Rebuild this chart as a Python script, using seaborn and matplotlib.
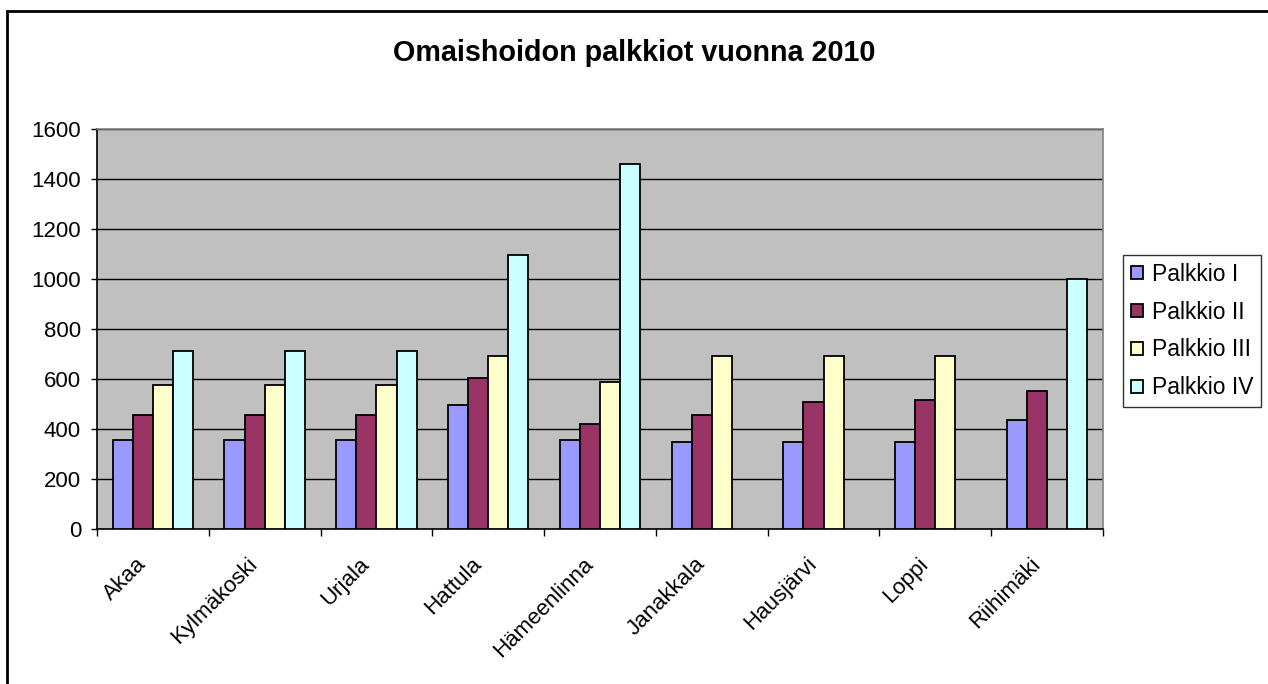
import numpy as np
import pandas as pd
import matplotlib
matplotlib.use("Agg")
import matplotlib.pyplot as plt
import seaborn as sns
from matplotlib.patches import Rectangle
from matplotlib.transforms import ScaledTranslation

# ===== DATA =====
kunnat = ["Akaa", "Kylmäkoski", "Urjala", "Hattula", "Hämeenlinna",
          "Janakkala", "Hausjärvi", "Loppi", "Riihimäki"]
palkkio_1 = [355, 355, 355, 495, 355, 348, 348, 348, 435]
palkkio_2 = [458, 458, 458, 604, 420, 458, 509, 517, 553]
palkkio_3 = [575, 575, 575, 691, 589, 691, 691, 691, np.nan]
palkkio_4 = [714, 714, 714, 1095, 1461, np.nan, np.nan, np.nan, 1000]
sarjat = ["Palkkio I", "Palkkio II", "Palkkio III", "Palkkio IV"]
varit = ["#9999FF", "#993366", "#FFFFCC", "#CCFFFF"]

df = pd.DataFrame({
    "Kunta": kunnat * 4,
    "Sarja": [s for s in sarjat for _ in kunnat],
    "Arvo": palkkio_1 + palkkio_2 + palkkio_3 + palkkio_4,
})

# ===== PLOT =====
sns.set_style("white", rc={"text.color": "black", "xtick.color": "black",
                           "ytick.color": "black", "axes.labelcolor": "black"})
plt.rcParams["font.family"] = ["Liberation Sans", "DejaVu Sans"]

fig = plt.figure(figsize=(12.68, 6.84), dpi=100)
ax = fig.add_axes([97 / 1268, 1 - 529 / 684, 1006 / 1268, 400 / 684])

sns.barplot(
    data=df, x="Kunta", y="Arvo", hue="Sarja",
    order=kunnat, hue_order=sarjat, palette=varit,
    width=0.72, edgecolor="black", linewidth=1.3,
    saturation=1, ax=ax, zorder=3,
)

ax.set_facecolor("#C0C0C0")
ax.set_ylim(0, 1600)
ax.set_xlim(-0.5, len(kunnat) - 0.5)
ax.set_yticks(range(0, 1601, 200))
ax.yaxis.grid(True, color="black", linewidth=1, zorder=0)
ax.set_axisbelow(True)
ax.set_xlabel("")
ax.set_ylabel("")

for side in ["top", "right"]:
    ax.spines[side].set_color("#808080")
    ax.spines[side].set_linewidth(1.2)
for side in ["left", "bottom"]:
    ax.spines[side].set_color("black")
    ax.spines[side].set_linewidth(1.2)

ax.tick_params(axis="y", which="major", length=4.5, width=1, direction="out",
               labelsize=16, left=True, pad=7)
ax.set_xticks(np.arange(len(kunnat)))
ax.set_xticklabels(kunnat, rotation=45, ha="right", va="center",
                   rotation_mode="anchor", fontsize=16)
ax.tick_params(axis="x", which="major", length=0, pad=23)
ax.set_xticks(np.arange(-0.5, len(kunnat), 1), minor=True)
ax.tick_params(axis="x", which="minor", length=5, width=1, bottom=True)
siirto = ScaledTranslation(-10 / 100, 0, fig.dpi_scale_trans)
for lbl in ax.get_xticklabels():
    lbl.set_transform(lbl.get_transform() + siirto)

fig.text(0.5, 1 - 53 / 684, "Omaishoidon palkkiot vuonna 2010",
         fontsize=20.7, fontweight="bold", ha="center", va="center")

leg = ax.legend(loc="center left", bbox_to_anchor=(1.02, 0.495),
                frameon=True, fancybox=False, edgecolor="black",
                fontsize=16.5, handlelength=0.5, handleheight=0.5,
                handletextpad=0.4, labelspacing=0.65, borderpad=0.35,
                borderaxespad=0)
leg.get_frame().set_linewidth(1.0)

# chart border (only top and left edges fall inside the picture)
fig.patches.append(Rectangle((7 / 1268, -0.05), 1.1, 1 - 11 / 684 + 0.05,
                             transform=fig.transFigure, fill=False,
                             edgecolor="black", linewidth=2))

fig.savefig("out.png", dpi=100, facecolor="white")
